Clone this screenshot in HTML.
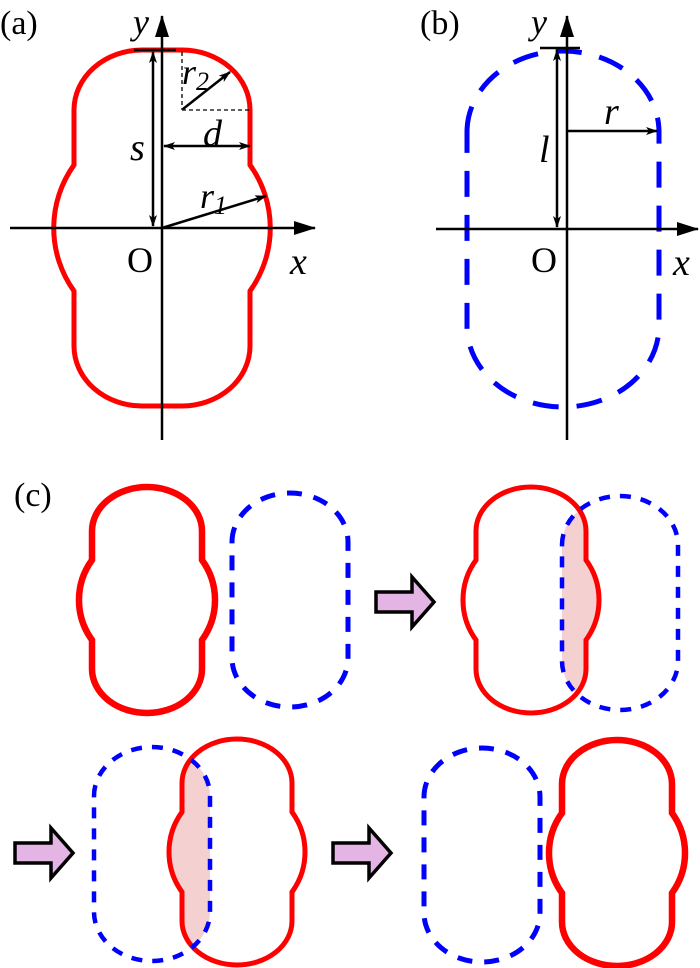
<!DOCTYPE html>
<html><head><meta charset="utf-8"><style>
html,body{margin:0;padding:0;background:#fff;}
svg{display:block;}
</style></head><body>
<svg width="700" height="968" viewBox="0 0 700 968" xmlns="http://www.w3.org/2000/svg" font-family="'Liberation Serif', 'Times New Roman', serif">
<defs>
<path id="pea" d="M -20,-178 L 20,-178 A 68 60 0 0 1 88,-118 L 88,-63 A 108 108 0 0 1 88,63 L 88,118 A 68 60 0 0 1 20,178 L -20,178 A 68 60 0 0 1 -88,118 L -88,63 A 108 108 0 0 1 -88,-63 L -88,-118 A 68 60 0 0 1 -20,-178 Z"/>
<path id="P" d="M -55,-69 A 55 44 0 0 1 55,-69 L 55,-40 A 68 68 0 0 1 55,40 L 55,69 A 55 44 0 0 1 -55,69 L -55,40 A 68 68 0 0 1 -55,-40 Z"/>
<path id="sta" d="M -96,-97 A 96 81 0 0 1 96,-97 L 96,97 A 96 81 0 0 1 -96,97 Z"/>
<path id="S" d="M -58,-58 A 58 49 0 0 1 58,-58 L 58,58 A 58 49 0 0 1 -58,58 Z"/>
<marker id="ah" markerWidth="12" markerHeight="8" refX="11" refY="4" orient="auto-start-reverse" markerUnits="userSpaceOnUse"><path d="M0,0 L12,4 L0,8 L3,4 Z" fill="#000"/></marker>
<marker id="ahb" markerWidth="22" markerHeight="14" refX="21" refY="7" orient="auto" markerUnits="userSpaceOnUse"><path d="M0,0 L22,7 L0,14 Z" fill="#000"/></marker>
<clipPath id="cpR2"><use href="#P" transform="translate(531,600)"/></clipPath>
<clipPath id="cpR3"><use href="#P" transform="translate(237,852)"/></clipPath>
<g id="arr"><path d="M0,-10 L36,-10 L36,-25 L58,0 L36,25 L36,10 L0,10 Z" fill="#e4b4e4" stroke="#000" stroke-width="3.5" stroke-linejoin="miter"/></g>
</defs>

<!-- Panel a -->
<text x="0" y="34" font-size="34">(a)</text>
<use href="#pea" transform="translate(162,228)" fill="none" stroke="#ff0000" stroke-width="5"/>
<line x1="162" y1="440" x2="162" y2="16" stroke="#000" stroke-width="2.5" marker-end="url(#ahb)"/>
<line x1="10" y1="228" x2="315" y2="228" stroke="#000" stroke-width="2.5" marker-end="url(#ahb)"/>
<line x1="134" y1="50" x2="176" y2="50" stroke="#000" stroke-width="2.5"/>
<line x1="153" y1="52" x2="153" y2="226" stroke="#000" stroke-width="2.5" marker-start="url(#ah)" marker-end="url(#ah)"/>
<line x1="164" y1="146" x2="250" y2="146" stroke="#000" stroke-width="2.5" marker-start="url(#ah)" marker-end="url(#ah)"/>
<line x1="162" y1="228" x2="266" y2="196" stroke="#000" stroke-width="2.5" marker-end="url(#ah)"/>
<line x1="183" y1="109" x2="230" y2="72" stroke="#000" stroke-width="2.5" marker-end="url(#ah)"/>
<line x1="182" y1="52" x2="182" y2="110" stroke="#000" stroke-width="1.3" stroke-dasharray="4 3"/>
<line x1="182" y1="110" x2="250" y2="110" stroke="#000" stroke-width="1.3" stroke-dasharray="4 3"/>
<text x="133" y="34" font-size="36" font-style="italic">y</text>
<text x="130" y="160" font-size="38" font-style="italic">s</text>
<text x="203" y="146" font-size="38" font-style="italic">d</text>
<text x="182" y="84" font-size="36" font-style="italic">r<tspan font-size="26" dy="6">2</tspan></text>
<text x="200" y="208" font-size="36" font-style="italic">r<tspan font-size="26" dy="6">1</tspan></text>
<text x="127" y="272" font-size="36">O</text>
<text x="290" y="274" font-size="38" font-style="italic">x</text>

<!-- Panel b -->
<text x="420" y="34" font-size="34">(b)</text>
<use href="#sta" transform="translate(563,229)" fill="none" stroke="#0000ff" stroke-width="5" stroke-dasharray="26 18"/>
<line x1="567" y1="440" x2="567" y2="16" stroke="#000" stroke-width="2.5" marker-end="url(#ahb)"/>
<line x1="436" y1="229" x2="698" y2="229" stroke="#000" stroke-width="2.5" marker-end="url(#ahb)"/>
<line x1="540" y1="48" x2="580" y2="48" stroke="#000" stroke-width="2.5"/>
<line x1="557" y1="50" x2="557" y2="227" stroke="#000" stroke-width="2.5" marker-start="url(#ah)" marker-end="url(#ah)"/>
<line x1="567" y1="131" x2="657" y2="131" stroke="#000" stroke-width="2.5" marker-end="url(#ah)"/>
<text x="531" y="34" font-size="36" font-style="italic">y</text>
<text x="539" y="162" font-size="38" font-style="italic">l</text>
<text x="604" y="124" font-size="38" font-style="italic">r</text>
<text x="531" y="272" font-size="36">O</text>
<text x="673" y="275" font-size="38" font-style="italic">x</text>

<!-- Panel c -->
<text x="14" y="506" font-size="34">(c)</text>
<use href="#P" transform="translate(147,600)" fill="none" stroke="#ff0000" stroke-width="6.5"/>
<use href="#S" transform="translate(290,600)" fill="none" stroke="#0000ff" stroke-width="5" stroke-dasharray="15 12"/>
<use href="#arr" transform="translate(376,602)"/>

<g clip-path="url(#cpR2)"><use href="#S" transform="translate(620,603)" fill="#f4d0d0"/></g>
<use href="#P" transform="translate(531,600)" fill="none" stroke="#ff0000" stroke-width="5"/>
<use href="#S" transform="translate(620,603)" fill="none" stroke="#0000ff" stroke-width="4.5" stroke-dasharray="11 10"/>

<use href="#arr" transform="translate(15,853)"/>
<g clip-path="url(#cpR3)"><use href="#S" transform="translate(152,854)" fill="#f4d0d0"/></g>
<use href="#P" transform="translate(237,852)" fill="none" stroke="#ff0000" stroke-width="5"/>
<use href="#S" transform="translate(152,854)" fill="none" stroke="#0000ff" stroke-width="4.5" stroke-dasharray="11 10"/>

<use href="#arr" transform="translate(333,853)"/>
<use href="#S" transform="translate(482,855)" fill="none" stroke="#0000ff" stroke-width="5" stroke-dasharray="15 12"/>
<use href="#P" transform="translate(617,853)" fill="none" stroke="#ff0000" stroke-width="6.5"/>
</svg>
</body></html>
